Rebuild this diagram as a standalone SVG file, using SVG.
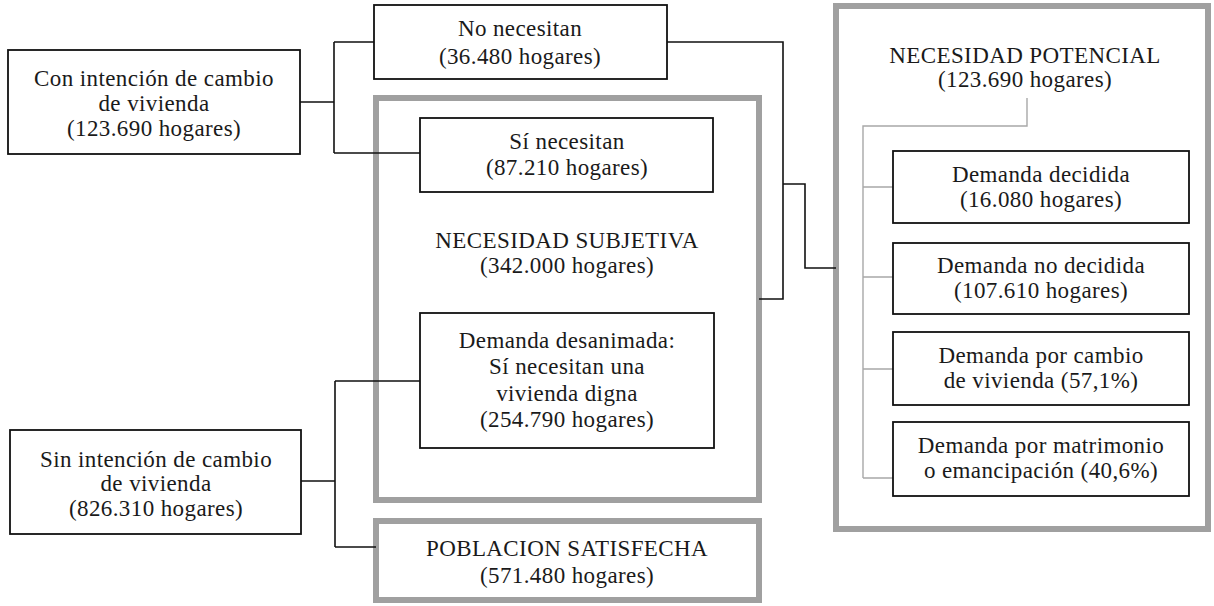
<svg xmlns="http://www.w3.org/2000/svg" width="1214" height="606" viewBox="0 0 1214 606" font-family="'Liberation Serif', 'Times New Roman', 'DejaVu Serif', serif">
<style>
  text { font-family: "Liberation Serif", "Times New Roman", "DejaVu Serif", serif; font-size: 23px; letter-spacing: 0.4px; fill: #1a1a1a; text-anchor: middle; }
  .box { fill: #ffffff; stroke: #111111; stroke-width: 1.8; }
  .frame { fill: #ffffff; stroke: #a0a0a0; stroke-width: 6; }
  .conn { fill: none; stroke: #111111; stroke-width: 1.6; }
  .thin { fill: none; stroke: #a8a8a8; stroke-width: 1.4; }
</style>
<rect width="1214" height="606" fill="#ffffff"/>

<g id="necesidad-subjetiva">
  <rect class="frame" x="376" y="98" width="383" height="402"/>
  <text x="567" y="248">NECESIDAD SUBJETIVA</text>
  <text x="567" y="273">(342.000 hogares)</text>
</g>
<g id="poblacion-satisfecha">
  <rect class="frame" x="376" y="521" width="383" height="79"/>
  <text x="567" y="556">POBLACION SATISFECHA</text>
  <text x="567" y="583">(571.480 hogares)</text>
</g>
<g id="necesidad-potencial">
  <rect class="frame" x="836" y="6" width="372" height="523"/>
  <text x="1025" y="63">NECESIDAD POTENCIAL</text>
  <text x="1025" y="87">(123.690 hogares)</text>
</g>

<g id="connectors">
  <path class="conn" d="M300,102 H334 M334,42 V153 M334,42 H374 M334,153 H420"/>
  <path class="conn" d="M667,42 H783 V299 H759 M783,184 H805 V268 H836"/>
  <path class="conn" d="M301,481 H335 M335,381 V547 M335,381 H420 M335,547 H376"/>
  <path class="thin" d="M1027,98 V126 H863 V478 M863,187 H893 M863,277 H893 M863,369 H893 M863,478 H893"/>
</g>

<g id="con-intencion">
  <rect class="box" x="8" y="50" width="292" height="104"/>
  <text x="154" y="86">Con intención de cambio</text>
  <text x="154" y="111">de vivienda</text>
  <text x="154" y="136">(123.690 hogares)</text>
</g>
<g id="no-necesitan">
  <rect class="box" x="374" y="5" width="293" height="74"/>
  <text x="520" y="36">No necesitan</text>
  <text x="520" y="64">(36.480 hogares)</text>
</g>
<g id="si-necesitan">
  <rect class="box" x="420" y="118" width="293" height="74"/>
  <text x="567" y="149">Sí necesitan</text>
  <text x="567" y="175">(87.210 hogares)</text>
</g>
<g id="demanda-desanimada">
  <rect class="box" x="420" y="313" width="294" height="135"/>
  <text x="567" y="348">Demanda desanimada:</text>
  <text x="567" y="374">Sí necesitan una</text>
  <text x="567" y="401">vivienda digna</text>
  <text x="567" y="427">(254.790 hogares)</text>
</g>
<g id="sin-intencion">
  <rect class="box" x="10" y="430" width="291" height="104"/>
  <text x="156" y="467">Sin intención de cambio</text>
  <text x="156" y="491">de vivienda</text>
  <text x="156" y="516">(826.310 hogares)</text>
</g>
<g id="demanda-decidida">
  <rect class="box" x="893" y="151" width="296" height="72"/>
  <text x="1041" y="182">Demanda decidida</text>
  <text x="1041" y="207">(16.080 hogares)</text>
</g>
<g id="demanda-no-decidida">
  <rect class="box" x="893" y="243" width="296" height="71"/>
  <text x="1041" y="273">Demanda no decidida</text>
  <text x="1041" y="298">(107.610 hogares)</text>
</g>
<g id="demanda-cambio">
  <rect class="box" x="893" y="332" width="296" height="73"/>
  <text x="1041" y="363">Demanda por cambio</text>
  <text x="1041" y="388">de vivienda (57,1%)</text>
</g>
<g id="demanda-matrimonio">
  <rect class="box" x="893" y="422" width="296" height="74"/>
  <text x="1041" y="453">Demanda por matrimonio</text>
  <text x="1041" y="478">o emancipación (40,6%)</text>
</g>
</svg>
